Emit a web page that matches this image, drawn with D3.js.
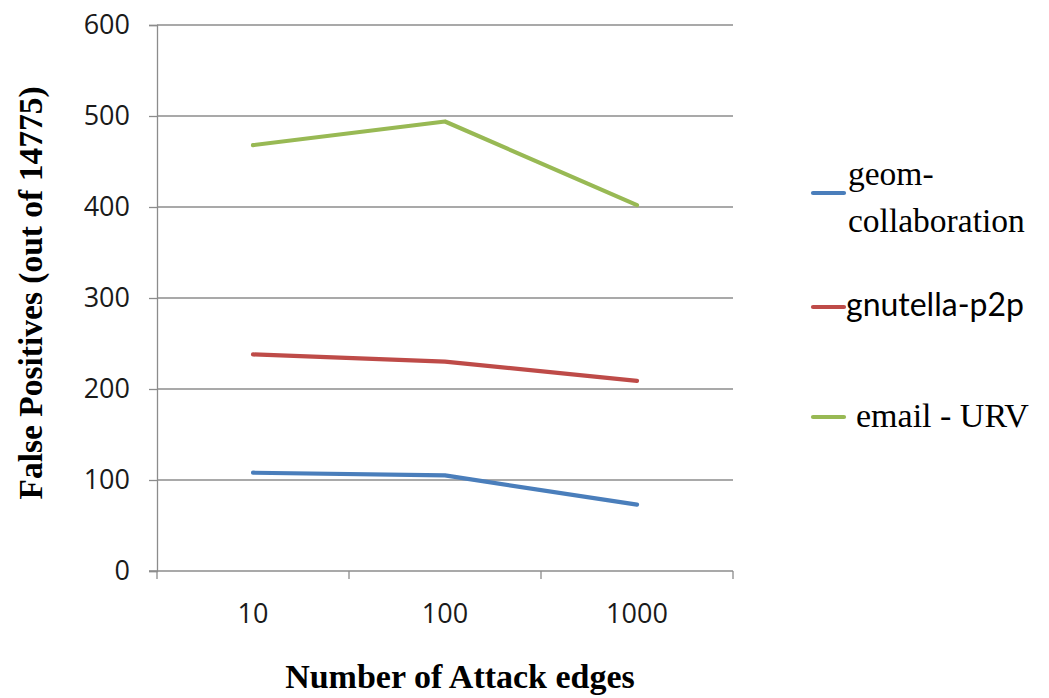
<!DOCTYPE html>
<html>
<head>
<meta charset="utf-8">
<script src="https://cdn.jsdelivr.net/npm/d3@7"></script>
<style>
  html, body { margin: 0; padding: 0; background: #fff; }
  svg { display: block; }
</style>
</head>
<body>
<svg id="chart" width="1049" height="698"></svg>
<script>
// Attack-edge counts on the category axis
const categories = ["10", "100", "1000"];
// False positives per dataset
const geomCollaboration = [108, 105, 73];
const gnutellaP2p = [238, 230, 209];
const emailUrv = [468, 494, 402];
const yTicks = [0, 100, 200, 300, 400, 500, 600];

const series = [
  { name: "geom-collaboration", values: geomCollaboration, color: "#4a7ebb" },
  { name: "gnutella-p2p", values: gnutellaP2p, color: "#be4b48" },
  { name: "email - URV", values: emailUrv, color: "#98b954" }
];

const svg = d3.select("#chart");
const plot = { left: 157, right: 733, top: 25, bottom: 571 };

const x = d3.scaleBand().domain(categories).range([plot.left, plot.right]);
const y = d3.scaleLinear().domain([0, 600]).range([plot.bottom, plot.top]);

const gridColor = "#8c8c8c";
const sansFont = "'Open Sans', 'Liberation Sans', sans-serif";
const legendSans = "Lato, 'Open Sans', sans-serif";
const serifFont = "'Liberation Serif', 'DejaVu Serif', serif";

// horizontal gridlines
svg.append("g")
  .selectAll("line")
  .data(yTicks.filter(d => d > 0))
  .join("line")
  .attr("x1", plot.left).attr("x2", plot.right)
  .attr("y1", d => y(d)).attr("y2", d => y(d))
  .attr("stroke", gridColor).attr("stroke-width", 1.3);

// y axis
const yAxis = svg.append("g")
  .attr("transform", `translate(${plot.left},0)`)
  .call(d3.axisLeft(y).tickValues(yTicks).tickSize(8).tickPadding(19));
yAxis.select(".domain").attr("stroke", gridColor).attr("stroke-width", 1.3);
yAxis.selectAll(".tick line").attr("stroke", gridColor).attr("stroke-width", 1.3);
yAxis.selectAll(".tick text")
  .attr("font-family", sansFont).attr("font-size", 27).attr("fill", "#1a1a1a");

// x axis: ticks sit on category boundaries
const xAxisG = svg.append("g").attr("transform", `translate(0,${plot.bottom})`);
xAxisG.append("line")
  .attr("x1", plot.left - 8).attr("x2", plot.right)
  .attr("stroke", gridColor).attr("stroke-width", 1.3);
const boundaries = categories.map(c => x(c)).concat([x(categories[categories.length - 1]) + x.bandwidth()]);
xAxisG.selectAll("line.tk")
  .data(boundaries)
  .join("line").attr("class", "tk")
  .attr("x1", d => d).attr("x2", d => d)
  .attr("y1", 0).attr("y2", 8)
  .attr("stroke", gridColor).attr("stroke-width", 1.3);
xAxisG.selectAll("text")
  .data(categories)
  .join("text")
  .attr("x", d => x(d) + x.bandwidth() / 2)
  .attr("y", 52)
  .attr("text-anchor", "middle")
  .attr("font-family", sansFont).attr("font-size", 27).attr("fill", "#1a1a1a")
  .text(d => d);

// series lines
const line = d3.line()
  .x((d, i) => x(categories[i]) + x.bandwidth() / 2)
  .y(d => y(d));

svg.append("g")
  .selectAll("path")
  .data(series)
  .join("path")
  .attr("d", d => line(d.values))
  .attr("fill", "none")
  .attr("stroke", d => d.color)
  .attr("stroke-width", 4.2)
  .attr("stroke-linecap", "round")
  .attr("stroke-linejoin", "round");

// axis titles
svg.append("text")
  .attr("x", 460).attr("y", 688)
  .attr("text-anchor", "middle")
  .attr("font-family", serifFont).attr("font-weight", "bold").attr("font-size", 34)
  .attr("fill", "#000")
  .text("Number of Attack edges");

svg.append("text")
  .attr("transform", "translate(42,293) rotate(-90)")
  .attr("text-anchor", "middle")
  .attr("font-family", serifFont).attr("font-weight", "bold").attr("font-size", 33.5)
  .attr("fill", "#000")
  .text("False Positives (out of 14775)");

// legend
const legend = svg.append("g");
const legendRows = [
  { s: series[0], ly: 193, lines: [{ t: "geom-", x: 848, y: 185 }, { t: "collaboration", x: 848, y: 232 }], font: serifFont, size: 33.5 },
  { s: series[1], ly: 307, lines: [{ t: "gnutella-p2p", x: 846, y: 316 }], font: legendSans, size: 32 },
  { s: series[2], ly: 417, lines: [{ t: "email - URV", x: 856, y: 427 }], font: serifFont, size: 34 }
];
legendRows.forEach(r => {
  legend.append("line")
    .attr("x1", 813).attr("x2", 844)
    .attr("y1", r.ly).attr("y2", r.ly)
    .attr("stroke", r.s.color).attr("stroke-width", 4.2)
    .attr("stroke-linecap", "round");
  r.lines.forEach(l => {
    legend.append("text")
      .attr("x", l.x).attr("y", l.y)
      .attr("font-family", r.font).attr("font-size", r.size).attr("fill", "#000")
      .text(l.t);
  });
});
</script>
</body>
</html>
